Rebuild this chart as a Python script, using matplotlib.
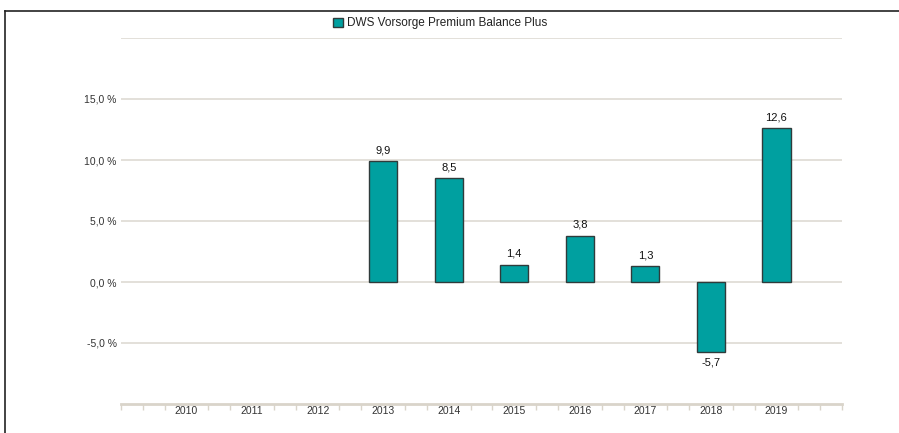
import numpy as np
import matplotlib.pyplot as plt
from matplotlib.lines import Line2D

years = ['2010', '2011', '2012', '2013', '2014', '2015', '2016', '2017', '2018', '2019']
values = [np.nan, np.nan, np.nan, 9.9, 8.5, 1.4, 3.8, 1.3, -5.7, 12.6]
value_labels = ['', '', '', '9,9', '8,5', '1,4', '3,8', '1,3', '-5,7', '12,6']
ytick_vals = [15, 10, 5, 0, -5]
ytick_labels = ['15,0 %', '10,0 %', '5,0 %', '0,0 %', '-5,0 %']
series_name = 'DWS Vorsorge Premium Balance Plus'

plt.rcParams['font.family'] = ['Liberation Sans', 'DejaVu Sans']

fig = plt.figure(figsize=(8.99, 4.33), dpi=100)
ax = fig.add_axes([121/899, 1-404/433, (842-121)/899, (404-38)/433])

x = np.arange(len(years))
grid_c = '#dedad3'
for g in [20] + ytick_vals:
    ax.axhline(g, color=grid_c, lw=1.2, zorder=0)

bars = ax.bar(x, values, width=0.43, color='#00a0a0', edgecolor='#2f3b3b', lw=1.0, zorder=2,
              label=series_name)

for xi, v, lab in zip(x, values, value_labels):
    if np.isnan(v):
        continue
    if v >= 0:
        ax.text(xi, v + 0.5, lab, ha='center', va='bottom', fontsize=8, color='#111111')
    else:
        ax.text(xi, v - 0.5, lab, ha='center', va='top', fontsize=8, color='#111111')

ax.set_xlim(-1, 10)
ax.set_ylim(-10, 20)
ax.set_yticks(ytick_vals)
ax.set_yticklabels(ytick_labels, fontsize=7.5, color='#333333')
ax.tick_params(axis='y', length=0, pad=3)

ax.set_xticks(x)
ax.set_xticklabels(years, fontsize=7.5, color='#333333')
ax.tick_params(axis='x', length=0, pad=1.5)
minor = [t / 3 for t in range(-3, 31) if t % 3 != 0 or t in (-3, 30)]
ax.set_xticks(minor, minor=True)
ax.tick_params(axis='x', which='minor', length=4, width=1, color='#d9d4ca', direction='out')

for s in ['top', 'right', 'left']:
    ax.spines[s].set_visible(False)
ax.spines['bottom'].set_color('#d9d4ca')
ax.spines['bottom'].set_linewidth(2)

leg = fig.legend(loc='upper center', bbox_to_anchor=(0.49, 0.985), frameon=False, fontsize=8.5,
                 handlelength=0.8, handleheight=0.8, handletextpad=0.4)
for t in leg.get_texts():
    t.set_color('#222222')

fig.add_artist(Line2D([5/899, 5/899], [0, 1-11/433], color='#222222', lw=1.2))
fig.add_artist(Line2D([5/899, 1], [1-11/433, 1-11/433], color='#222222', lw=1.2))

plt.savefig('out.png', dpi=100)
